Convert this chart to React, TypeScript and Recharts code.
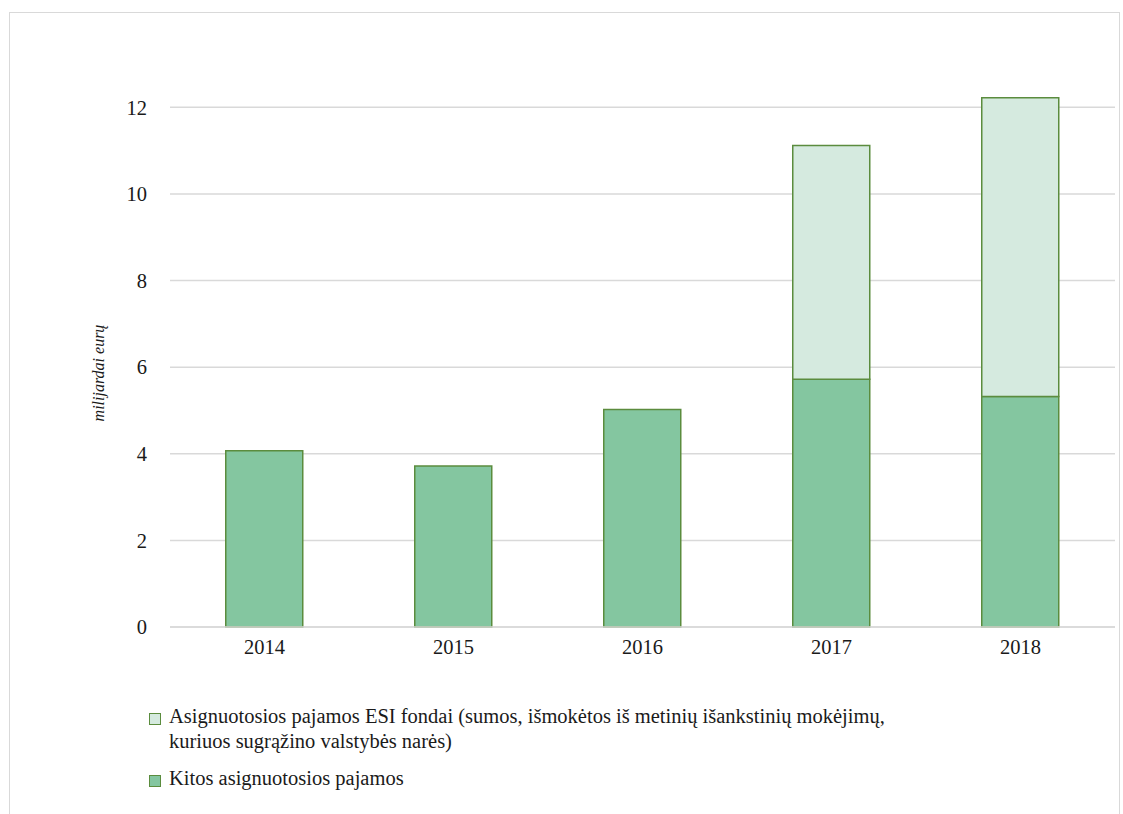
import React from "react";
import { BarChart, Bar, XAxis, YAxis, CartesianGrid } from "recharts";

const years = ["2014", "2015", "2016", "2017", "2018"];
const kitos = [4.07, 3.72, 5.02, 5.72, 5.32];
const esi = [0, 0, 0, 5.4, 6.9];
const yTicks = [0, 2, 4, 6, 8, 10, 12];

const kitosName = "Kitos asignuotosios pajamos";
const esiName = [
  "Asignuotosios pajamos ESI fondai (sumos, išmokėtos iš metinių išankstinių mokėjimų,",
  "kuriuos sugrąžino valstybės narės)",
];

const data = years.map((y, i) => ({ year: y, kitos: kitos[i], esi: esi[i] }));

const FONT = "'Liberation Serif', 'Times New Roman', serif";
const STROKE = "#5b8c3e";
const DARK = "#84c6a0";
const LIGHT = "#d5eadf";

function LegendItem({ fill, lines, top }: { fill: string; lines: string[]; top: number }) {
  return (
    <div style={{ position: "absolute", left: 149, top, display: "flex", alignItems: "flex-start" }}>
      <div
        style={{
          width: 10,
          height: 10,
          background: fill,
          border: `1.5px solid ${STROKE}`,
          marginTop: 3,
          marginRight: 8,
        }}
      />
      <div style={{ fontSize: 20.5, lineHeight: "25px", marginTop: -6, color: "#1a1a1a" }}>
        {lines.map((l) => (
          <div key={l}>{l}</div>
        ))}
      </div>
    </div>
  );
}

export default function App() {
  return (
    <div style={{ position: "absolute", left: 0, top: 0, width: 1123, height: 814, fontFamily: FONT, background: "#fff" }}>
      <div
        style={{
          position: "absolute",
          left: 9,
          top: 12,
          width: 1109,
          height: 810,
          border: "1.5px solid #d9d9d9",
        }}
      />
      <div style={{ position: "absolute", left: 0, top: 0 }}>
        <BarChart
          width={1123}
          height={680}
          data={data}
          margin={{ top: 64, right: 8, left: 110, bottom: 20 }}
          barCategoryGap="29.5%"
        >
          <CartesianGrid vertical={false} stroke="#d9d9d9" strokeWidth={1.5} horizontalValues={yTicks} />
          <XAxis
            dataKey="year"
            height={33}
            tickLine={false}
            axisLine={{ stroke: "#d9d9d9", strokeWidth: 1.5 }}
            tickMargin={6}
            tick={{ fill: "#1a1a1a", fontSize: 20.5, fontFamily: FONT }}
          />
          <YAxis
            width={60}
            domain={[0, 13]}
            ticks={yTicks}
            tickLine={false}
            axisLine={false}
            tickMargin={17}
            tick={{ fill: "#1a1a1a", fontSize: 20.5, fontFamily: FONT }}
            label={{
              content: () => (
                <text
                  x={0}
                  y={0}
                  transform="translate(104 373) rotate(-90)"
                  textAnchor="middle"
                  fontStyle="italic"
                  fontSize={16}
                  fontFamily={FONT}
                  fill="#1a1a1a"
                >
                  milijardai eurų
                </text>
              ),
            }}
          />
          <Bar dataKey="kitos" name={kitosName} stackId="a" fill={DARK} stroke={STROKE} strokeWidth={1.5} isAnimationActive={false} />
          <Bar dataKey="esi" name={esiName.join(" ")} stackId="a" fill={LIGHT} stroke={STROKE} strokeWidth={1.5} isAnimationActive={false} />
        </BarChart>
      </div>
      <LegendItem fill={LIGHT} lines={esiName} top={710} />
      <LegendItem fill={DARK} lines={[kitosName]} top={772} />
    </div>
  );
}
